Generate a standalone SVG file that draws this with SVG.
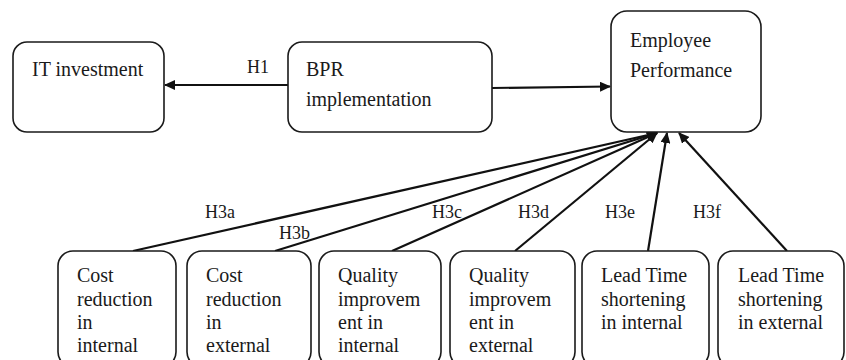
<svg xmlns="http://www.w3.org/2000/svg" width="846" height="360" viewBox="0 0 846 360" font-family="'Liberation Serif', 'Times New Roman', Times, serif">
<style>
.box{fill:#fff;stroke:#1a1a1a;stroke-width:1.6}
text{font-family:'Liberation Serif','Times New Roman',Times,serif;fill:#1a1a1a}
.t{font-size:20px}
.l{font-size:18px}
.c{stroke:#111;stroke-width:2.2;fill:none;marker-end:url(#ah)}
</style>
<defs>
<marker id="ah" markerUnits="userSpaceOnUse" markerWidth="11" markerHeight="10" refX="10" refY="5" orient="auto">
<path d="M0,0 L11,5 L0,10 z" fill="#111"/>
</marker>
</defs>
<rect width="846" height="360" fill="#fff"/>
<g id="connectors">
<line class="c" x1="288" y1="85" x2="165" y2="85"/>
<line class="c" x1="492" y1="88" x2="610" y2="86.5"/>
<line class="c" x1="133" y1="251" x2="657" y2="133"/>
<line class="c" x1="275" y1="251" x2="657" y2="133"/>
<line class="c" x1="392" y1="251" x2="657" y2="133"/>
<line class="c" x1="515" y1="251" x2="657" y2="133"/>
<line class="c" x1="648" y1="251" x2="667" y2="133"/>
<line class="c" x1="787" y1="251" x2="679" y2="133"/>
<text class="l" x="247" y="73">H1</text>
<text class="l" x="205" y="218">H3a</text>
<text class="l" x="279" y="239">H3b</text>
<text class="l" x="432" y="218">H3c</text>
<text class="l" x="518" y="218">H3d</text>
<text class="l" x="605" y="218">H3e</text>
<text class="l" x="693" y="218">H3f</text>
</g>
<g id="it">
<rect class="box" x="13" y="42" width="151" height="90" rx="14"/>
<text class="t" x="32" y="76">IT investment</text>
</g>
<g id="bpr">
<rect class="box" x="288" y="42" width="204" height="90" rx="14"/>
<text class="t" x="306" y="76">BPR</text>
<text class="t" x="306" y="106">implementation</text>
</g>
<g id="emp">
<rect class="box" x="611" y="11" width="150" height="121" rx="16"/>
<text class="t" x="630" y="47">Employee</text>
<text class="t" x="630" y="77">Performance</text>
</g>
<g id="h3a">
<rect class="box" x="58" y="251" width="118" height="116" rx="15"/>
<text class="t" x="77" y="282">Cost</text>
<text class="t" x="77" y="306">reduction</text>
<text class="t" x="77" y="329">in</text>
<text class="t" x="77" y="352">internal</text>
</g>
<g id="h3b">
<rect class="box" x="187" y="251" width="124" height="116" rx="15"/>
<text class="t" x="206" y="282">Cost</text>
<text class="t" x="206" y="306">reduction</text>
<text class="t" x="206" y="329">in</text>
<text class="t" x="206" y="352">external</text>
</g>
<g id="h3c">
<rect class="box" x="319" y="251" width="122" height="116" rx="15"/>
<text class="t" x="338" y="282">Quality</text>
<text class="t" x="338" y="306">improvem</text>
<text class="t" x="338" y="329">ent in</text>
<text class="t" x="338" y="352">internal</text>
</g>
<g id="h3d">
<rect class="box" x="450" y="251" width="125" height="116" rx="15"/>
<text class="t" x="469" y="282">Quality</text>
<text class="t" x="469" y="306">improvem</text>
<text class="t" x="469" y="329">ent in</text>
<text class="t" x="469" y="352">external</text>
</g>
<g id="h3e">
<rect class="box" x="582" y="251" width="127" height="116" rx="15"/>
<text class="t" x="601" y="282">Lead Time</text>
<text class="t" x="601" y="306">shortening</text>
<text class="t" x="601" y="329">in internal</text>
</g>
<g id="h3f">
<rect class="box" x="718" y="251" width="126" height="116" rx="15"/>
<text class="t" x="738" y="282">Lead Time</text>
<text class="t" x="738" y="306">shortening</text>
<text class="t" x="738" y="329">in external</text>
</g>
</svg>
